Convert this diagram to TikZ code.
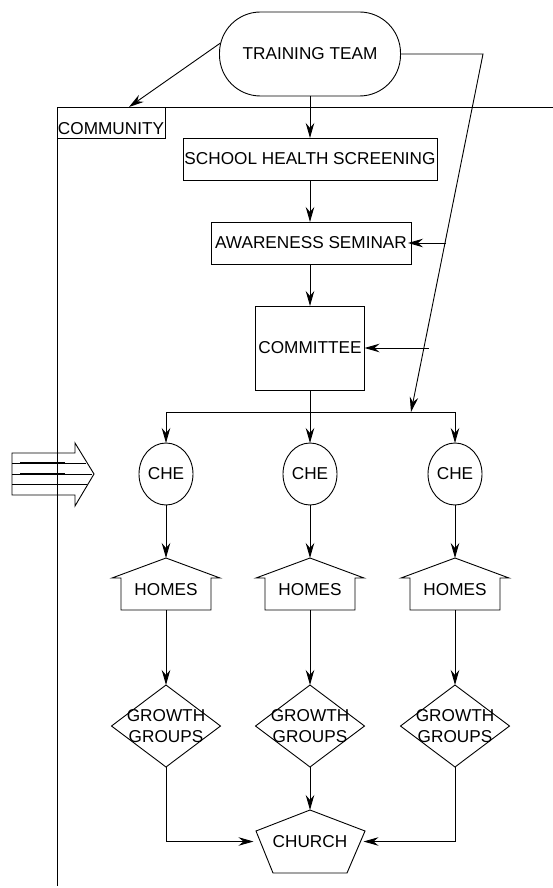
\documentclass[tikz,border=0pt]{standalone}
\usepackage{fontspec}
\setmainfont{Liberation Sans}
\usetikzlibrary{arrows.meta,shapes.geometric,calc}
\begin{document}
\begin{tikzpicture}[x=1pt,y=-1pt,
  every node/.style={font=\fontsize{17.2}{21}\selectfont, inner sep=0pt, outer sep=0pt},
  line/.style={line width=0.9pt, draw=black},
  arr/.style={line, -{Stealth[length=15pt,width=8.5pt,inset=5pt]}},
  boxnode/.style={line, rectangle, minimum height=42pt},
  chenode/.style={line, ellipse, minimum width=54pt, minimum height=62pt},
  ggnode/.style={line, diamond, minimum width=109pt, minimum height=82pt}
]
\useasboundingbox (0,0) rectangle (553,888);
\fill[white] (0,0) rectangle (553,888);

% community frame
\draw[line] (553,107) -- (57,107) -- (57,886);
\node[line, minimum width=108pt, minimum height=31pt,
      label={[yshift=-6pt]center:COMMUNITY}] (community) at (111,122.5) {};

% top chain
\node[line, rounded corners=41pt, minimum width=181pt, minimum height=84pt] (tt) at (310,54) {TRAINING TEAM};
\node[boxnode, minimum width=254pt] (shs) at (310,159) {SCHOOL HEALTH SCREENING};
\node[boxnode, minimum width=200pt] (aw) at (311,243) {AWARENESS SEMINAR};
\node[boxnode, minimum width=109pt, minimum height=84pt] (com) at (310,348) {COMMITTEE};

% columns
\foreach \i/\cx in {1/166,2/310,3/455} {
  \node[chenode] (che\i) at (\cx,474) {CHE};
  \node[minimum width=90pt, minimum height=52pt,
        label={[yshift=-6pt]center:HOMES}] (homes\i) at (\cx,584) {};
  \draw[line] (\cx,558) -- (\cx+54,578) -- (\cx+45,578) -- (\cx+45,610)
        -- (\cx-45,610) -- (\cx-45,578) -- (\cx-54,578) -- cycle;
  \node[ggnode, label={[align=center]center:GROWTH\\GROUPS}] (gg\i) at (\cx,726) {};
  \draw[arr] (che\i.south) -- (homes\i.north);
  \draw[arr] (homes\i.south) -- (gg\i.north);
}

% church
\node[minimum width=109pt, minimum height=63pt, label={center:CHURCH}] (church) at (310,841.5) {};
\draw[line] (310,810) -- (365,831) -- (347,873) -- (273,873) -- (256,831) -- cycle;

% connectors
\draw[arr] ($(tt.west)+(1,-11)$) -- ($(community.north)+(18,0)$);
\draw[arr] (tt.south) -- (tt.south |- shs.north);
\draw[arr] (shs.south) -- (shs.south |- aw.north);
\draw[arr] (shs.south |- aw.south) -- (com.north);
\coordinate (bus) at (310,412);
\draw[arr] (com.south) -- (che2.north);
\draw[arr] (bus) -| (che1.north);
\draw[arr] (bus) -| (che3.north);

\coordinate (tr) at (483,54);
\coordinate (tb) at (411,412);
\draw[arr] (tt.east) -- (tr) -- (tb);
\coordinate (s1) at (446,243);
\coordinate (s2) at (429,348);
\draw[arr] (s1) -- ([xshift=-3pt]aw.east);
\draw[arr] (s2) -- (com.east);

\draw[arr] (gg2.south) -- (church.north);
\draw[arr] (gg1.south) |- ([xshift=-2pt]church.west);
\draw[arr] (gg3.south) |- ([xshift=-1pt]church.east);

% block arrow on the left
\draw[line] (12,453) -- (75,453) -- (75,443) -- (94,474) -- (75,506) -- (75,495) -- (12,495) -- cycle;
\draw[line] (12,463) -- (86,463);
\draw[line] (12,474) -- (92,474);
\draw[line] (12,484) -- (87,484);
\draw[line width=1.2pt] (20,463) -- (65,463);
\draw[line width=1.2pt] (20,474) -- (65,474);
\end{tikzpicture}
\end{document}
